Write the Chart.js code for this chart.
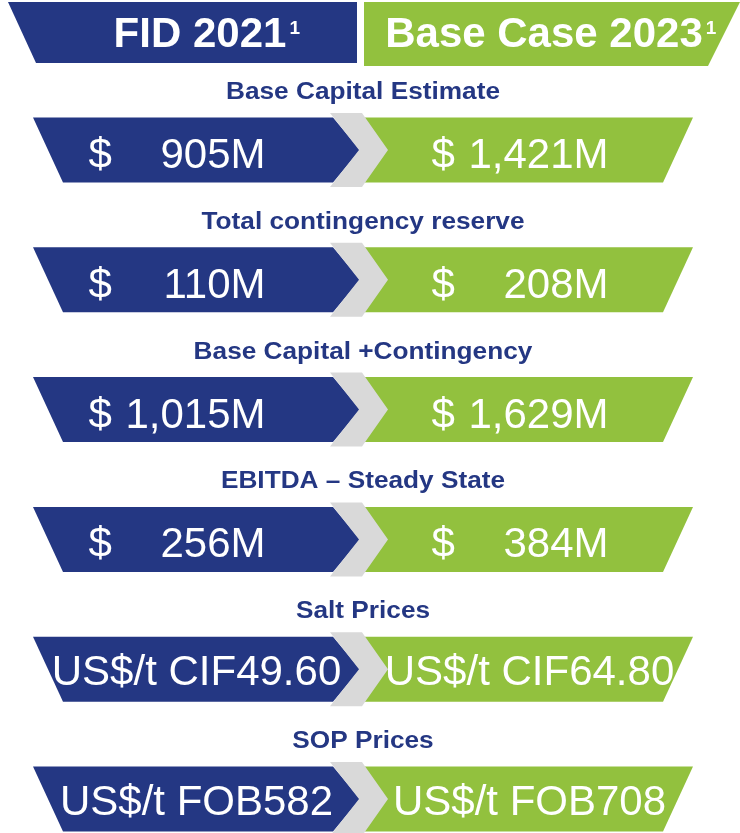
<!DOCTYPE html>
<html>
<head>
<meta charset="utf-8">
<title>FID 2021 vs Base Case 2023</title>
<script src="https://cdn.jsdelivr.net/npm/chart.js@4.4.0/dist/chart.umd.min.js"></script>
<style>
    body { margin: 0; background: #ffffff; }
    #wrap { width: 740px; height: 833px; position: relative; }
</style>
</head>
<body>
<div id="wrap"><canvas id="chart"></canvas></div>
<script>
// Columns (scenarios) and rows (metrics)
const scenarios = ['FID 2021', 'Base Case 2023'];
const footnote = '1';
const metrics = [
    'Base Capital Estimate',
    'Total contingency reserve',
    'Base Capital +Contingency',
    'EBITDA – Steady State',
    'Salt Prices',
    'SOP Prices'
];
const prefixes = ['$', '$', '$', '$', 'US$/t CIF', 'US$/t FOB'];
const suffixes = ['M', 'M', 'M', 'M', '', ''];
const fidValues = ['905', '110', '1,015', '256', '49.60', '582'];
const baseCaseValues = ['1,421', '208', '1,629', '384', '64.80', '708'];

const BLUE = '#243783';
const GREEN = '#92C13E';
const GREY = '#D9D9D9';
const FONT = "'Liberation Sans', Arial, sans-serif";

function drawText(ctx, text, x, y, font, align, scaleX) {
    ctx.save();
    ctx.font = font;
    ctx.textBaseline = 'alphabetic';
    ctx.textAlign = align;
    ctx.translate(x, y);
    ctx.scale(scaleX || 1, 1);
    ctx.fillText(text, 0, 0);
    ctx.restore();
}

function poly(ctx, pts, color) {
    ctx.beginPath();
    ctx.moveTo(pts[0][0], pts[0][1]);
    for (let i = 1; i < pts.length; i++) ctx.lineTo(pts[i][0], pts[i][1]);
    ctx.closePath();
    ctx.fillStyle = color;
    ctx.fill();
}

// draws the header, the arrow cells and their labels from the scale positions
const infographic = {
    id: 'infographic',
    afterDatasetsDraw(chart) {
        const ctx = chart.ctx;
        const xs = chart.scales.x;
        const area = chart.chartArea;
        const half = xs.width / 4;
        const cols = scenarios.map((s, c) => {
            const cx = xs.getPixelForValue(c);
            return { cx: cx, left: cx - half, right: cx + half };
        });
        const b = cols[0], g = cols[1];

        // header
        const top = area.top - 148;
        poly(ctx, [[b.left - 22, top], [b.right - 6, top], [b.right - 6, top + 61], [b.left + 6, top + 61]], BLUE);
        poly(ctx, [[g.left + 1, top], [g.right + 44, top], [g.right + 12, top + 64], [g.left + 1, top + 64]], GREEN);
        ctx.fillStyle = '#ffffff';
        const headFont = 'bold 42px ' + FONT;
        const supFont = 'bold 19px ' + FONT;
        const headOffsets = [3.5, 14.5];
        scenarios.forEach((name, c) => {
            const x = cols[c].cx + headOffsets[c];
            drawText(ctx, name, x, top + 45, headFont, 'center');
            ctx.font = headFont;
            const w = ctx.measureText(name).width;
            drawText(ctx, footnote, x + w / 2 + 3, top + 32, supFont, 'left');
        });

        // rows
        const h = 32.5, gh = 37;
        metrics.forEach((metric, row) => {
            const cy = chart.getDatasetMeta(0).data[row].y;

            poly(ctx, [[b.left + 3, cy - h], [b.right - 30, cy - h], [b.right - 3, cy],
                [b.right - 30, cy + h], [b.left + 33, cy + h]], BLUE);
            poly(ctx, [[g.left, cy - h], [g.right - 3, cy - h], [g.right - 33, cy + h], [g.left, cy + h]], GREEN);
            const B = b.right;
            poly(ctx, [[B - 33, cy - gh], [B - 1, cy - gh], [B + 25, cy], [B - 1, cy + gh],
                [B - 33, cy + gh], [B - 4, cy]], GREY);

            // title
            ctx.fillStyle = BLUE;
            drawText(ctx, metric, (area.left + area.right) / 2, cy - 51, 'bold 23px ' + FONT, 'center', 1.14);

            // values
            ctx.fillStyle = '#ffffff';
            const vals = [fidValues[row], baseCaseValues[row]];
            const blockShift = [-108, -98];
            vals.forEach((v, c) => {
                const col = cols[c];
                if (prefixes[row] === '$') {
                    const font = '42px ' + FONT;
                    const bl = col.cx + blockShift[c];
                    drawText(ctx, prefixes[row], bl, cy + 18, font, 'left');
                    drawText(ctx, v + suffixes[row], bl + 177, cy + 18, font, 'right');
                } else {
                    drawText(ctx, prefixes[row] + v + suffixes[row], col.cx, cy + 16, '42px ' + FONT, 'center');
                }
            });
        });
    }
};

const chart = new Chart(document.getElementById('chart'), {
    type: 'scatter',
    data: {
        datasets: scenarios.map((name) => ({
            label: name,
            data: metrics.map((m) => ({ x: name, y: m })),
            pointRadius: 0,
            pointHoverRadius: 0,
            clip: false
        }))
    },
    options: {
        responsive: true,
        maintainAspectRatio: false,
        animation: false,
        layout: { padding: { top: 150, bottom: 34, left: 30, right: 44 } },
        scales: {
            x: { type: 'category', labels: scenarios, offset: true, display: false },
            y: { type: 'category', labels: metrics, offset: false, display: false }
        },
        plugins: {
            legend: { display: false },
            tooltip: { enabled: false }
        }
    },
    plugins: [infographic]
});
</script>
</body>
</html>
